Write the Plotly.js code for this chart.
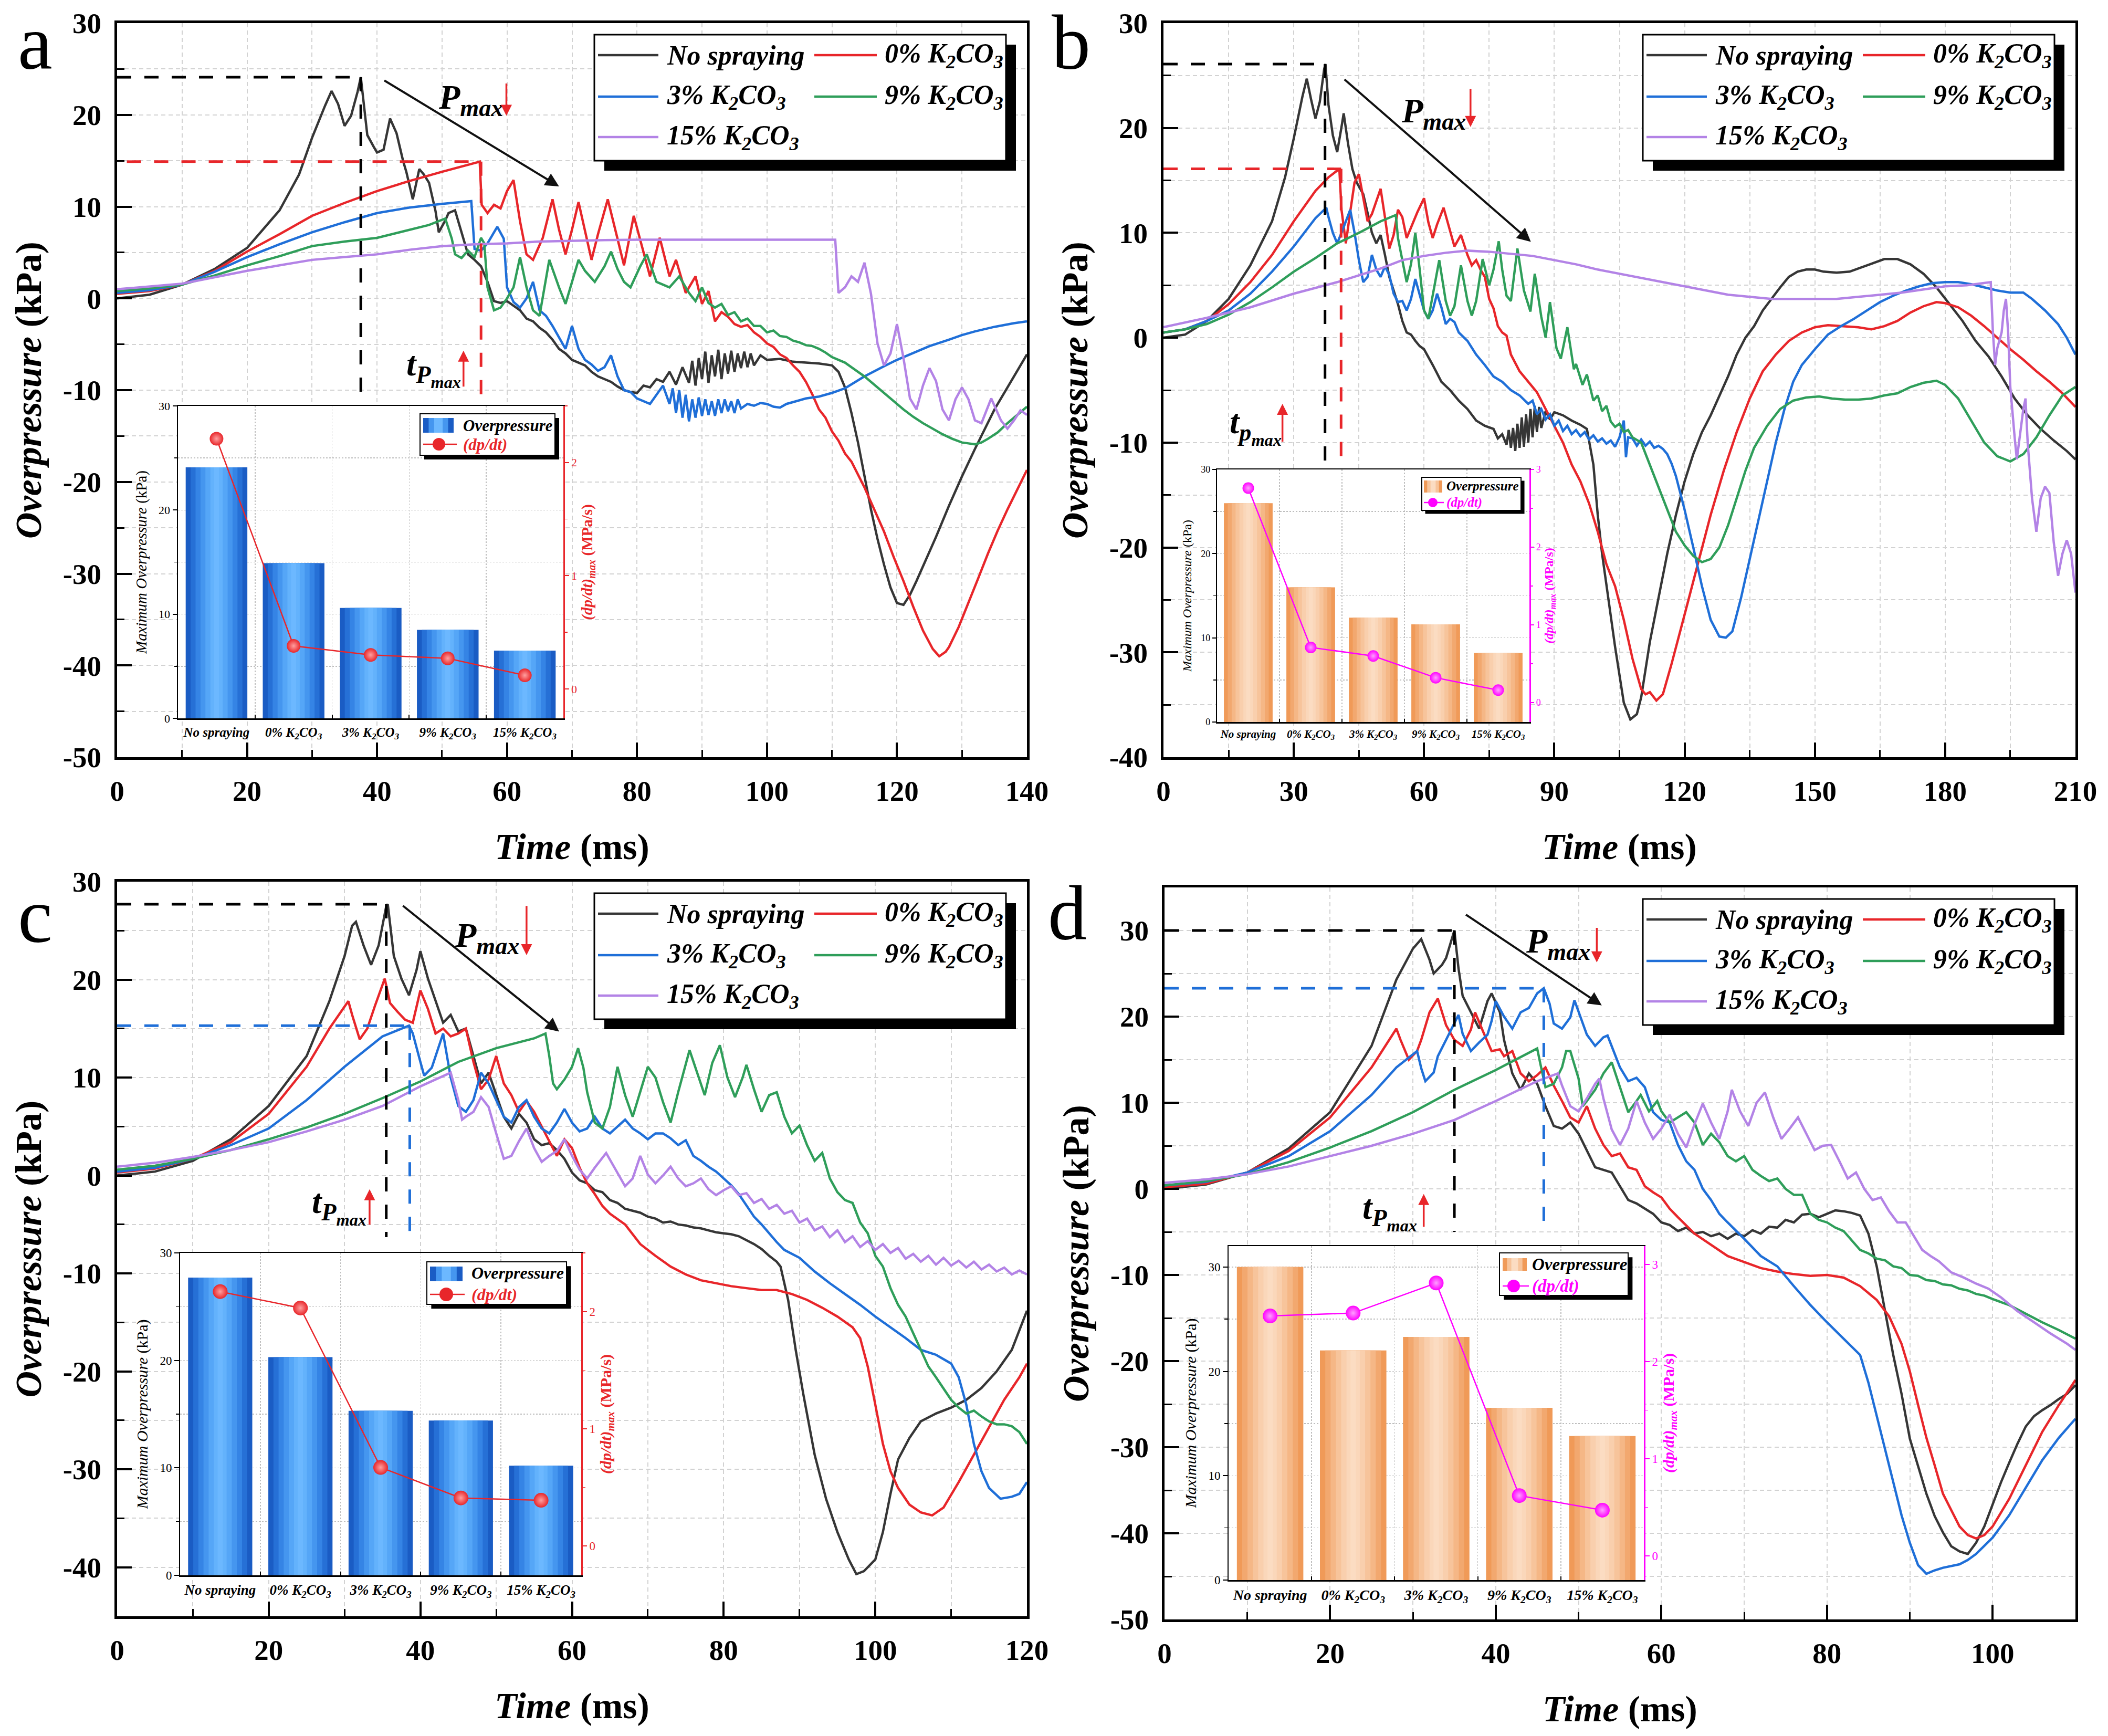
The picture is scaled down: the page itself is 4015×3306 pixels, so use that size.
<!DOCTYPE html>
<html><head><meta charset="utf-8">
<script src="https://cdn.plot.ly/plotly-3.0.1.min.js"></script>
<style>html,body{margin:0;padding:0;background:#fff}</style>
</head><body>
<div id="chart" style="width:4015px;height:3306px"></div>
<script>
// ---------------- DATA ----------------
const seriesNames = ['No spraying','0% K<sub>2</sub>CO<sub>3</sub>','3% K<sub>2</sub>CO<sub>3</sub>','9% K<sub>2</sub>CO<sub>3</sub>','15% K<sub>2</sub>CO<sub>3</sub>'];
const categories = ['No spraying','0% K<sub>2</sub>CO<sub>3</sub>','3% K<sub>2</sub>CO<sub>3</sub>','9% K<sub>2</sub>CO<sub>3</sub>','15% K<sub>2</sub>CO<sub>3</sub>'];

// Panel a  [time ms, overpressure kPa]
const a_ns = [[0,0],[5,0.4],[10,1.5],[15,3.2],[20,5.5],[25,9.6],[28,13.5],[30,17.5],[32,21],[33,22.6],[34,21.2],[35,18.8],[36,19.9],[37,22.5],[37.5,24.1],[38,21],[38.5,17.8],[39.5,16.5],[40,15.9],[41,16.2],[42,19.6],[43,18],[44,15],[44.5,13.8],[45.5,10.8],[46.5,14.1],[47.2,13.5],[48,12.6],[49,9.5],[49.5,7.2],[50.5,8.5],[51,9.3],[52,9.6],[53,7.2],[54,4.8],[55,4.2],[56,3.5],[57,1.8],[58,-0.3],[59,-0.5],[60,-0.3],[61,-0.8],[62,-1.3],[63,-2.2],[64,-2.5],[65,-3.2],[66,-3.7],[67,-4.5],[68,-5.5],[69,-6],[70,-6.7],[71,-7],[72,-7.3],[73,-8],[74,-8.5],[75,-8.8],[76,-9.1],[77,-9.6],[78,-10],[79,-10.2],[80,-10.3],[81,-9.5],[82,-9.7],[83,-8.8],[84,-9.1],[85,-8],[86,-9.4],[87,-7.5],[88,-9.2],[88.5,-6.8],[89,-9.5],[89.5,-6.5],[90,-8.8],[90.5,-5.8],[91,-9.2],[91.5,-6.2],[92,-8.5],[92.5,-5.6],[93,-8.8],[93.5,-6],[94,-8.2],[94.5,-5.7],[95,-8],[95.5,-6],[96,-7.6],[96.5,-5.8],[97,-7.5],[97.5,-6],[98,-7.3],[99,-6.2],[100,-6.7],[102,-6.6],[104,-6.9],[106,-7],[108,-7.1],[110,-7.3],[111,-8],[112,-9.7],[113,-12.5],[114,-15.7],[115,-19.5],[116,-23],[117,-26.2],[118,-29],[119,-31.5],[120,-33.2],[121,-33.4],[122,-32.3],[123,-30.8],[124,-29.2],[126,-26],[128,-22.6],[130,-19.4],[132,-16.4],[135,-12.1],[138,-8.5],[140,-6.1]];
const a_r = [[0,0.5],[5,0.8],[10,1.5],[15,3],[20,5.1],[25,7],[30,9],[35,10.4],[40,11.7],[45,12.8],[50,13.8],[53,14.4],[55.8,14.9],[56.1,10.2],[57,9.3],[58,10.2],[59,9.8],[60,11.7],[61,12.9],[62,8.4],[63,4.8],[64,4.2],[65.5,6.6],[67,10.8],[68,7.5],[69,4.8],[70,7.5],[71,10.5],[72,7.3],[73,4.2],[74,7],[75.5,10.8],[77,6.5],[78,3.6],[79.5,9],[81,5],[82,2.4],[83.5,6.6],[85,2.4],[86,4.2],[87.5,0.6],[89,2.4],[90,-0.6],[91,0.8],[92,-2.5],[93,-1.5],[94,-2],[95,-2.8],[96,-3.1],[97,-2.9],[98,-3.7],[99,-4.2],[100,-4.9],[101,-5.3],[102,-6.1],[103,-6.5],[104,-7.3],[105,-8],[106,-9.1],[107,-10.5],[108,-12.1],[109,-13],[110,-14.5],[111,-15.5],[112,-16.9],[113,-17.8],[115,-20.6],[116.5,-23],[118,-25.4],[119.5,-28.2],[121,-30.8],[122.5,-33.6],[124,-36.2],[125.5,-38.2],[126.5,-39],[127.5,-38.5],[128,-38],[129.5,-35.8],[131,-33.2],[132.5,-30.5],[134,-27.8],[135.5,-25.3],[137,-23],[138.5,-20.8],[140,-18.7]];
const a_b = [[0,0.6],[5,0.9],[10,1.5],[15,2.9],[20,4.5],[25,5.9],[30,7.2],[35,8.3],[40,9.3],[45,9.9],[50,10.3],[54.5,10.6],[55,5.4],[56,5.2],[57,6],[58.5,7.8],[59.5,6.5],[60,1.2],[61,-0.4],[62,-1],[63,0],[64,1.8],[65,-1.3],[66,-1.9],[67,-3],[68,-4.3],[69,-5.5],[70,-3],[71,-5.5],[72,-6.7],[73,-7.2],[74,-7.9],[75,-7.5],[76,-6.2],[77,-8.5],[78,-10],[79,-10.2],[80,-10.9],[81,-11.2],[82,-11.5],[83,-10.5],[84,-9.5],[85,-11.5],[85.5,-9.8],[86,-12.5],[86.5,-10],[87,-13],[87.5,-10.5],[88,-13.4],[88.5,-11],[89,-13],[89.5,-10.8],[90,-12.8],[90.5,-11],[91,-12.7],[91.5,-11.2],[92,-12.8],[92.5,-11],[93,-12.5],[93.5,-11],[94,-12.3],[94.5,-11.2],[95,-12.5],[95.5,-11],[96,-12],[97,-11.5],[98,-11.7],[99,-11.4],[100,-11.5],[101,-11.8],[102,-11.9],[103,-11.5],[104,-11.3],[106,-10.9],[108,-10.7],[110,-10.3],[112,-9.8],[115,-8.5],[118,-7.4],[120,-6.7],[122,-6.1],[125,-5.2],[128,-4.5],[130,-4],[132,-3.6],[135,-3.1],[138,-2.7],[140,-2.5]];
const a_g = [[0,0.8],[5,1.1],[10,1.5],[15,2.5],[20,3.6],[25,4.6],[30,5.7],[35,6.2],[40,6.6],[45,7.5],[48,8],[50.5,8.7],[51.5,6.5],[52,4.8],[53,4.4],[54,5.2],[55,4.5],[56,6.6],[56.5,6],[57,1.2],[58,-1.3],[59,-1],[60,0],[61,1.2],[62,4.5],[63,1.2],[64,-1.3],[65,-1.9],[66.5,4.2],[68,1.2],[69,-0.6],[70,1.8],[71,4.2],[72,3],[73.5,1.8],[75,3.5],[76,5.1],[77,3.2],[78,1.8],[79,1.2],[80.5,3.5],[81.5,4.8],[83,1.8],[85,1.2],[86.5,2.4],[88,0.6],[89,-0.3],[90,1.2],[91,-0.5],[92,-1],[93,-0.6],[94,-1.8],[95,-1.5],[96,-2.5],[97,-2.2],[98,-3],[99,-3],[100,-3.7],[101,-3.5],[102,-4.1],[103,-4.2],[104,-4.6],[105,-4.8],[106,-5.1],[107,-5.2],[108,-5.5],[109,-5.9],[110,-6.4],[111,-6.7],[112,-7],[113,-7.5],[115,-8.5],[116.5,-9.4],[118,-10.3],[119.5,-11.2],[121,-12.1],[122.5,-12.9],[124,-13.6],[125.5,-14.2],[127,-14.8],[128.5,-15.3],[130,-15.7],[131,-15.8],[132,-15.9],[133,-15.7],[134,-15.3],[135.5,-14.6],[137,-13.6],[138.5,-12.7],[140,-11.8]];
const a_p = [[0,1],[5,1.3],[10,1.6],[15,2.3],[20,3],[25,3.6],[30,4.2],[35,4.5],[40,4.8],[45,5.3],[50,5.7],[55,5.9],[60,6],[65,6.2],[70,6.3],[75,6.35],[80,6.4],[90,6.4],[100,6.4],[110.5,6.4],[111,0.6],[112,1.2],[113,2.4],[114,1.8],[115,3.9],[116,0.5],[117,-4.9],[118,-7.3],[119,-6],[120,-2.8],[121,-6.5],[122,-10.9],[123,-12.1],[124,-9.5],[125,-7.6],[126,-9],[127,-12.1],[128,-13.3],[129,-11],[130,-9.7],[131,-11],[132,-13.3],[133,-13.6],[134.5,-10.9],[136,-13.3],[137,-14.2],[138,-13.3],[139,-12.2],[140,-12.7]];

// Panel b
const b_ns = [[0,0],[5,0.3],[10,1.6],[15,3.7],[20,6.9],[25,11.1],[28,15.3],[30,19],[32,23],[33,24.7],[34,22.7],[35,20.9],[36,22.5],[37,25.6],[37.3,26.1],[38,22.2],[39,19.3],[40,17.7],[41,20.1],[41.5,21.4],[42.5,18.5],[43.5,16.1],[44.5,14.8],[46,13.7],[47,11.9],[48,10],[49,9],[50,9.8],[51,7.9],[52,5.8],[53,4.5],[54,3.2],[55,1.6],[56,0.5],[57,0.3],[58,-0.3],[59,-0.8],[60,-1.1],[62,-2.6],[64,-4.2],[66,-5],[68,-6],[70,-6.8],[72,-7.9],[74,-8.4],[76,-8.7],[77,-9.6],[78,-9.2],[79,-10.2],[79.5,-8.8],[80,-10.5],[80.5,-8.6],[81,-10.8],[81.5,-8.2],[82,-10.5],[82.5,-7.6],[83,-10.4],[83.5,-7.3],[84,-10],[84.5,-6.8],[85,-9.5],[85.5,-6.5],[86,-9],[86.5,-6.6],[87,-8.6],[88,-7],[89,-7.8],[90,-7.1],[92,-7.4],[94,-7.9],[96,-8.3],[97.5,-8.7],[99,-12.1],[100,-16.9],[101,-20.6],[102,-23.7],[104,-29.5],[106,-34.8],[107.5,-36.4],[109,-35.9],[110,-34.3],[112,-29],[114,-24.8],[116,-20.6],[118,-16.9],[120,-13.7],[122,-11.1],[124,-9],[126,-7.4],[128,-5.5],[130,-3.7],[132,-1.6],[134,0],[136,1.1],[138,2.6],[140,3.7],[142,4.8],[144,5.8],[146,6.3],[148,6.5],[150,6.5],[152,6.3],[155,6.2],[158,6.3],[160,6.6],[163,7.1],[166,7.5],[169,7.5],[172,7],[175,6.1],[178,4.8],[181,3.2],[184,1.6],[187,-0.3],[190,-1.8],[193,-3.7],[196,-5.8],[199,-7.4],[202,-8.7],[205,-9.8],[208,-10.8],[210,-11.6]];
const b_r = [[0,0.5],[5,0.8],[10,1.6],[15,3.2],[20,5.3],[25,7.9],[30,11.1],[35,14],[38,15.3],[40.5,16.1],[41,12.2],[42,9],[43,12],[44,14.8],[45,15.6],[46,13.2],[47,11.1],[48,11.8],[49,13],[50,14.2],[51,11.5],[52,8.5],[53,9.8],[54,12.2],[55,11.5],[56,9.5],[57,10.5],[58.5,12],[60,13.3],[61,11],[62,9.5],[63,10.8],[64.5,12.4],[66,10.3],[67,8.7],[68.5,9.8],[70,7.9],[71,6.9],[72,7.4],[73,6.5],[74,5.8],[75,3.7],[76,2.8],[77,1.1],[78,0.5],[79,0.2],[80,-1.6],[82,-3.2],[84,-4.2],[86,-5.2],[88,-6.8],[90,-8.4],[92,-10],[94,-12.1],[96,-13.7],[98,-15.8],[100,-18.5],[102,-21.6],[104,-23.7],[106,-26.9],[108,-30.6],[110,-33.5],[111,-34],[112,-33.8],[113.5,-34.6],[115,-34],[117,-31.1],[120,-26.4],[123,-21.6],[126,-16.9],[129,-12.7],[132,-9],[135,-5.8],[138,-3.2],[141,-1.6],[144,-0.3],[147,0.5],[150,1],[153,1.2],[156,1.1],[160,1],[163,0.8],[166,1.1],[169,1.6],[172,2.4],[175,3],[178,3.4],[180,3.3],[183,2.9],[186,2.1],[189,1.1],[192,0],[195,-1.1],[198,-2.1],[201,-3.2],[204,-4.2],[207,-5.3],[210,-6.6]];
const b_b = [[0,0.5],[5,0.8],[10,1.6],[15,2.6],[20,4.2],[25,6.3],[30,8.7],[35,11.4],[37.5,12.4],[38,11.5],[39,10],[40,9],[41,10],[42,11.1],[43,12.2],[44,10],[45,7.4],[46,5.3],[47,5.8],[48,7.9],[49,6.5],[50,5.8],[51,6.8],[52,6],[53,4.2],[54,3.4],[55,3.5],[56,2.6],[57,3.7],[58,5.6],[59,4.2],[60,2.6],[61,1.8],[62,2.6],[63,4.2],[64,2.9],[65,1.3],[66,1.8],[67,1.5],[68,0.5],[70,-0.3],[72,-1.6],[74,-2.6],[76,-3.7],[78,-4.2],[80,-5],[82,-5.5],[84,-6.3],[85,-6],[86,-7.3],[87,-6.8],[88,-7.8],[89,-7.3],[90,-8.4],[91,-7.9],[92,-8.9],[93,-8.4],[94,-9.2],[95,-8.8],[96,-9.4],[97,-9],[98,-9.7],[99,-9.3],[100,-9.9],[101,-9.6],[102,-10.1],[103,-9.8],[104,-10.4],[105,-9.5],[106,-7.9],[106.5,-11.4],[107,-9.5],[108,-9.6],[109,-10.3],[110,-9.7],[111,-10.3],[112,-9.9],[113,-10.5],[114,-10.3],[115,-10.6],[116,-11.1],[117,-12],[118,-13.2],[120,-16.4],[122,-20],[124,-23.7],[126,-26.9],[128,-28.5],[129.5,-28.6],[131,-28],[133,-24.8],[135,-21.1],[137,-17.4],[139,-13.7],[141,-10],[143,-6.8],[145,-4.2],[147,-2.6],[150,-1.1],[153,0.3],[156,1.1],[159,1.8],[162,2.6],[165,3.4],[168,4],[171,4.5],[174,4.9],[177,5.2],[180,5.3],[183,5.3],[186,5.1],[189,4.8],[192,4.5],[195,4.3],[198,4.3],[200,3.7],[203,2.6],[206,1.3],[208,0],[210,-1.6]];
const b_g = [[0,0.5],[5,0.8],[10,1.3],[15,2.2],[20,3.4],[25,4.8],[30,6.3],[35,7.6],[40,9],[45,10],[50,11.1],[53.5,11.7],[54,9.5],[55,7.4],[56,5.3],[57,7],[58,10],[59,6.5],[60,2.6],[61,1.8],[62,4],[63.5,7.4],[65,3.5],[66,2.1],[67,3],[68.5,6.9],[70,3.5],[71,2.1],[72,3.5],[73.5,7.5],[75,5],[76,6.5],[77.2,9.2],[78,6.5],[79,4],[80,3.5],[81.5,8.5],[83,4.5],[84.5,2.5],[85.5,6.1],[87,2],[88,0],[89,3.4],[90.5,-1],[91.5,-2],[93,1],[94.5,-3],[95,-2.5],[96.5,-4.5],[97.5,-3.5],[99,-6],[100,-5.5],[101,-7],[102,-6.5],[103,-8],[104,-8.5],[105,-8.2],[106,-9],[107,-8.8],[108,-9.5],[110,-10],[112,-12.1],[114,-14.2],[116,-16.4],[118,-18.5],[120,-19.8],[122,-20.8],[124,-21.4],[126,-21.1],[128,-20],[130,-17.9],[132,-15.3],[134,-12.7],[136,-10.5],[139,-8.4],[142,-6.8],[145,-6],[148,-5.7],[151,-5.6],[154,-5.8],[157,-5.9],[160,-5.9],[163,-5.8],[166,-5.5],[169,-5.3],[172,-4.7],[175,-4.3],[178,-4.1],[180,-4.5],[183,-5.8],[186,-7.9],[189,-10],[192,-11.3],[195,-11.8],[198,-11.1],[201,-9.5],[204,-7.4],[207,-5.5],[210,-4.7]];
const b_p = [[0,1],[10,1.9],[20,2.9],[30,4.2],[40,5.3],[50,6.6],[55,7.4],[60,7.8],[65,8.1],[70,8.3],[75,8.2],[80,8],[85,7.8],[90,7.4],[95,7],[100,6.5],[105,6.1],[110,5.7],[115,5.3],[120,4.9],[125,4.5],[130,4.1],[135,3.9],[140,3.7],[145,3.7],[150,3.7],[155,3.7],[160,3.9],[165,4.1],[170,4.3],[175,4.6],[180,4.9],[185,5],[189,5.2],[190.5,5.3],[191,0.5],[191.5,-2.6],[192,-1],[193,0.5],[193.5,2.6],[194,3.7],[194.5,0.5],[195,-4.7],[196,-9.5],[196.5,-11.6],[197,-10],[198,-6.8],[198.5,-5.8],[199,-10],[200,-15.3],[201,-18.5],[202,-15.3],[203,-14.2],[204,-14.8],[205,-19.5],[206,-22.7],[207,-20.6],[208,-19.3],[209,-20.6],[210,-24.3]];

// Panel c
const c_ns = [[0,0],[5,0.4],[10,1.5],[15,3.7],[20,7.1],[25,12.2],[28,17.8],[30,22.4],[31,25.5],[31.5,25.9],[32.5,23.5],[33.5,21.5],[34.5,23.5],[35.5,27.5],[35.7,27.7],[36.5,22.4],[37.5,20.1],[38.5,18.4],[39.5,21],[40,22.9],[41,20.1],[42,17.8],[43,15.6],[44,16.4],[45,14.7],[46,15],[47,12.2],[48,9.4],[49,10.5],[50,8.2],[51,6],[52,4.8],[53,6.3],[54,5.4],[55,3.7],[56,3.1],[57,3.3],[58,2.6],[59,1.7],[60,0.3],[61,-0.5],[62,-0.8],[63,-1.5],[64,-1.7],[65,-2.5],[66,-2.8],[67,-3.4],[68,-3.6],[69,-3.8],[70,-4.2],[71,-4.4],[72,-4.8],[73,-4.7],[74,-5],[75,-5.1],[76,-5.3],[77,-5.4],[78,-5.6],[79,-5.8],[80,-5.9],[81,-6],[82,-6.2],[83,-6.6],[84,-7],[85,-7.5],[86,-8.2],[87,-8.8],[87.5,-9.3],[88.5,-12.7],[89.5,-17.8],[90.5,-22.3],[92,-28.5],[93.5,-33],[95,-36.4],[96.5,-39.2],[97.5,-40.7],[98.5,-40.4],[100,-39.2],[101,-36.4],[102,-32.5],[103,-29],[104.5,-26.8],[106,-25.1],[108,-24.3],[110,-23.7],[112,-22.9],[114,-21.7],[116,-20],[118,-17.8],[120,-13.8]];
const c_r = [[0,0.3],[5,0.7],[10,1.7],[15,3.4],[20,6.3],[25,11.1],[28,15],[30.5,17.8],[31,16.4],[32,13.9],[33,15],[34,17.3],[35.3,20.1],[36,17.6],[37,16.7],[38,15.9],[39,15.6],[40,18.9],[41,17],[42,14.5],[43,15],[44,14.2],[45,14.5],[46,15],[47,11.6],[48,8.8],[49,9.8],[50,12.2],[51,9.4],[52,8.2],[53,6.5],[54,7.6],[55,6.5],[56,5],[57,3.4],[58,2],[59,3.7],[60,2.8],[61,0.8],[62,-0.8],[63,-1.9],[64,-3.1],[65,-3.9],[67,-5],[69,-7],[71,-8.2],[73,-9.3],[75,-10.1],[77,-10.7],[79,-11],[81,-11.3],[83,-11.5],[85,-11.7],[87,-11.7],[89,-12.1],[91,-12.7],[93,-13.5],[95,-14.4],[97,-15.5],[98,-16.6],[99,-19.5],[100,-23.4],[101,-27.4],[102,-30.2],[103,-31.9],[104.5,-33.6],[106,-34.4],[107.5,-34.7],[109,-33.9],[111,-31.3],[113,-28.5],[115,-25.7],[117,-22.9],[119,-20.6],[120,-19.2]];
const c_b = [[0,0.4],[5,0.8],[10,1.7],[15,3.1],[20,4.8],[25,7.7],[30,11.1],[35,14.2],[38.5,15.3],[39,14.5],[40,11.6],[40.5,10.2],[41.5,11],[42,12.2],[43,14.5],[44,10],[45,7.1],[46,6.5],[47,7.7],[48,10.5],[49,9.4],[50,7.7],[51,6],[52,5.4],[53,7],[54,7.7],[55,6],[56,4.8],[57,4.3],[58,5.4],[59,6.8],[60,5.4],[61,4.5],[62,4.8],[63,6],[64,4.8],[65,4.3],[66,5],[67,5.7],[68,4.8],[69,4.3],[70,3.7],[71,4.3],[72,4.3],[73,3.8],[74,3.1],[75,3.6],[76,2],[77,1.5],[78,0.9],[79,0.4],[80,-0.3],[81,-1],[82,-1.9],[83,-3],[84,-4.2],[85,-5],[86,-5.9],[87,-6.8],[88,-7.6],[89,-8],[90,-8.4],[92,-9.8],[94,-11],[96,-12.1],[98,-13.2],[100,-14.4],[102,-15.5],[104,-16.6],[106,-17.8],[108,-18.3],[110,-19.2],[111,-20.6],[112,-23.4],[113,-27.4],[114,-30.2],[115,-31.9],[116.5,-33],[118,-32.8],[119,-32.5],[120,-31.3]];
const c_g = [[0,0.6],[5,1],[10,1.7],[15,2.6],[20,3.7],[25,4.9],[30,6.3],[35,7.9],[40,9.6],[45,11.6],[50,13],[55,14],[56.5,14.5],[57,12.2],[57.5,9.4],[58,8.8],[59,9.8],[60,11.1],[60.8,13],[61.5,11],[62,8.5],[63,5.4],[64,4.8],[65,7],[66,11.1],[67,8.2],[68,6],[69,8.5],[70,11.1],[71,10],[72,7.5],[73,5.4],[74,8.5],[75.5,12.8],[76.5,10.5],[77.5,8.2],[78.5,11.5],[79.5,13.3],[80.5,10],[81.5,8],[82.5,10],[83,11.3],[84,8.8],[85,6.5],[86,8.2],[87,8.5],[88,6],[89,4.3],[90,5.1],[91,3.1],[92,1.5],[93,2.3],[94,-0.3],[95,-1.7],[96,-2.5],[97,-2.8],[98,-4.8],[99,-5.9],[100,-8.2],[101,-9.3],[102,-11.5],[103,-13.2],[104,-14.4],[105,-16.1],[106,-17.8],[107,-19.5],[108,-20.6],[109,-21.7],[110,-22.9],[111,-23.7],[112,-24.3],[113,-24],[114,-24.6],[115,-25.1],[116,-25.4],[117,-25.4],[118,-25.6],[119,-26.2],[120,-27.4]];
const c_p = [[0,0.9],[5,1.3],[10,1.9],[15,2.6],[20,3.4],[25,4.5],[30,5.7],[35,7.1],[40,9.1],[44,10.5],[45,7.7],[45.5,5.7],[46,6],[47,6.5],[48,8],[49,7],[50,4.3],[51,1.7],[52,2],[53,3.5],[54,4.8],[55,2.8],[56,1.4],[57,2],[58,2.5],[59,3.7],[60,2],[61,0.6],[62,-0.3],[63,0.8],[64.5,2.3],[66,0.3],[67,-1.1],[68,-0.3],[69,2],[70,0.1],[71,-0.8],[72,0],[73,0.9],[74,-0.3],[75,-1.1],[76,-0.8],[77,-0.3],[78,-1.4],[79,-2],[80,-1.5],[81,-1.1],[82,-2],[83,-1.8],[84,-2.8],[85,-2.4],[86,-3.4],[87,-3],[88,-3.9],[89,-3.6],[90,-4.8],[91,-4.4],[92,-5.6],[93,-5.2],[94,-6.3],[95,-5.6],[96,-6.8],[97,-6.2],[98,-7.3],[99,-6.7],[100,-7.6],[101,-7],[102,-7.9],[103,-7.4],[104,-8.5],[105,-8],[106,-8.8],[107,-8.2],[108,-9.1],[109,-8.4],[110,-9.2],[111,-8.7],[112,-9.4],[113,-8.8],[114,-9.6],[115,-9.1],[116,-9.8],[117,-9.4],[118,-10.1],[119,-9.7],[120,-10.1]];

// Panel d
const d_ns = [[0,0],[5,0.5],[10,1.9],[15,4.7],[20,8.9],[25,16.6],[28,24.3],[30,27.9],[31,29],[32,26.6],[32.5,25],[33.5,26],[34,26.8],[35,30],[35.5,25.6],[36,22.4],[37,20.5],[38,18.6],[39,21.8],[39.5,22.7],[40.5,20.5],[41,17.3],[42,13.4],[43,11.5],[44,13.4],[45,12.2],[46,9.6],[47,7.3],[48,7],[49,7.7],[50,6.4],[51,4.5],[52,2.5],[53,2.2],[54,1.9],[55,0.3],[56,-1.3],[57,-1.7],[58,-2.3],[59,-2.9],[60,-3.9],[61,-4.2],[62,-4.9],[63,-4.5],[64,-5.2],[65,-5],[66,-5.5],[67,-5.2],[68,-5.8],[69,-5.2],[70,-5.5],[71,-4.8],[72,-5.2],[73,-4.4],[74,-4.5],[75,-3.6],[76,-3.9],[77,-3],[78,-2.9],[79,-3.3],[80,-2.9],[81,-2.5],[82,-2.6],[83,-2.8],[84,-3.1],[85,-5.2],[86,-9],[87,-14.2],[88,-19.3],[89,-23.8],[90,-29],[91,-32.2],[92,-35.4],[93,-38],[94,-39.9],[95,-41.5],[96,-42.1],[97,-42.4],[98,-41.1],[99,-39.2],[100,-36.6],[101,-34.1],[102,-31.8],[103,-29.6],[104,-27.6],[105,-26.4],[106,-25.7],[107,-25.1],[108,-24.4],[109,-23.8],[110,-22.8]];
const d_r = [[0,0.2],[5,0.6],[10,1.9],[15,4.4],[20,8.3],[25,14.1],[28,18.6],[28.5,17.3],[29.5,15],[30.5,16],[31,17.3],[32,20.5],[33,22.1],[34,19],[35,17.3],[36,16.6],[37,18.5],[37.5,20.5],[38.5,18.2],[39.5,16],[40.5,16.2],[41,15.4],[42,16],[43,13.4],[44,12.5],[45,13.2],[46,14.1],[47,12],[48,10.2],[49,8.3],[50,7.7],[51,9.6],[52,7],[53,5.1],[54,3.8],[55,4.1],[56,2.5],[57,2.2],[58,0.3],[59,-0.4],[60,-1],[61,-2.3],[62,-3.3],[64,-5.2],[66,-6.5],[68,-7.8],[70,-8.5],[72,-9.2],[74,-9.6],[76,-9.9],[78,-10.1],[80,-10],[82,-10.3],[84,-11.3],[86,-12.9],[87.5,-14.8],[89,-18],[90,-21.2],[91,-25.1],[92,-28.9],[93,-32.1],[94,-35.4],[95,-37.3],[96,-39.2],[97,-40.2],[98,-40.6],[99,-40.2],[100,-39.2],[102,-36],[104,-32.1],[106,-28.2],[108,-25.1],[110,-22.2]];
const d_b = [[0,0.4],[5,0.8],[10,1.9],[15,3.8],[20,6.7],[25,10.9],[28,14.1],[30.5,16],[31,14],[31.5,12.5],[32.5,13.5],[33,15.4],[34,17.3],[35,19.2],[35.5,20.2],[36,18],[37,16],[38,17],[39,17.9],[39.5,19.5],[40,21.8],[41,20],[42,18.6],[43,20.5],[44,21],[45,22.7],[45.8,23.3],[46.5,21.5],[47,19.2],[48,18.6],[49,19.9],[49.5,21.9],[50,20.5],[51,17.9],[52,16.6],[53,17.6],[53.5,17.8],[54,16.6],[55,14.1],[56,12.5],[57,12.9],[58,11.8],[59,8.9],[60,8],[61,7.7],[62,5.1],[63,3.2],[64,2.2],[65,0],[66,-1.3],[67,-2.9],[68,-3.9],[70,-5.8],[72,-7.8],[74,-9],[76,-11.3],[78,-13.5],[80,-15.5],[82,-17.4],[84,-19.3],[85,-22.5],[86,-26.4],[87,-30.2],[88,-34.1],[89,-37.9],[90,-41.1],[91,-43.7],[92,-44.7],[93,-44.3],[94,-44],[95,-43.8],[96,-43.6],[97,-43.1],[98,-42.4],[100,-40.5],[102,-37.9],[104,-34.7],[106,-31.5],[108,-28.9],[110,-26.7]];
const d_g = [[0,0.4],[5,0.9],[10,1.7],[15,3.1],[20,4.8],[25,6.7],[30,8.9],[35,11.5],[40,13.8],[45,16.3],[45.5,14],[46,11.8],[47,12.2],[48,14.1],[48.5,16],[49,16],[50,12.8],[50.5,9.6],[51,10.2],[52,11.5],[53,13.4],[54,14.7],[55,11.8],[56,8.9],[57,10.2],[57.5,10.9],[58.5,9],[59.5,10.2],[60,9],[61,7.7],[62,8.3],[63,8.9],[64,7.7],[65,5.1],[66,6.4],[67,5.4],[68,3.8],[69,3.2],[70,3.8],[71,2.2],[72,1.5],[73,0.9],[74,1.2],[75,0],[76,-0.7],[77,-0.7],[78,-2.9],[79,-3.6],[80,-3.9],[81,-4.5],[82,-4.9],[83,-6],[84,-7.1],[85,-7.5],[86,-8.1],[87,-8.3],[88,-9],[89,-9.2],[90,-10],[91,-10.1],[92,-10.6],[93,-10.7],[94,-11.1],[95,-11.2],[96,-11.6],[97,-11.8],[98,-12.2],[99,-12.4],[100,-12.8],[102,-13.5],[104,-14.5],[106,-15.5],[108,-16.4],[110,-17.4]];
const d_p = [[0,0.7],[5,1.1],[10,1.7],[15,2.6],[20,3.8],[25,5],[30,6.4],[35,8],[40,10.2],[45,12.5],[47.5,13.4],[48,12],[49,9.6],[50,9],[51,10.5],[52,12.2],[52.5,12.8],[53,10.5],[54,6.9],[55,5.1],[56,7],[57,10.2],[58,7.7],[59,5.8],[60,7],[61,8.6],[62,6.4],[63,4.8],[64,7.5],[65,9.9],[66,7.7],[67,5.8],[68,9],[68.5,11.5],[69.5,9],[70.5,7.3],[71.5,10],[72.5,11.2],[73.5,8.3],[74.5,5.8],[75.5,7],[76.5,8.3],[77.5,6.4],[78.5,4.5],[79.5,5],[80.5,5.1],[81.5,3.2],[82.5,1.2],[83.5,1.9],[84.5,0],[85.5,-1.3],[86.5,-1],[87.5,-2.6],[88.5,-3.9],[89.5,-3.9],[90.5,-5.5],[91.5,-7.1],[92.5,-7.8],[93.5,-8.4],[95,-9.7],[96.5,-10.3],[98,-11],[99.5,-11.6],[101,-12.6],[103,-14.2],[105,-15.5],[107,-16.8],[109,-18],[110,-18.7]];

// Peak markers (time of max, max overpressure) for the dashed guides
const a_peak_t = [37.5, 56.0], a_peak_p = [24.1, 14.9];
const b_peak_t = [37.2, 40.9], b_peak_p = [26.1, 16.1];
const c_peak_t = [35.5, 38.6], c_peak_p = [27.7, 15.3];
const d_peak_t = [35.0, 45.8], d_peak_p = [30.0, 23.3];

// Inset data: maximum overpressure (kPa) and (dp/dt)max (MPa/s)
const a_over = [24.1, 14.9, 10.6, 8.5, 6.5],  a_dpdt = [2.21, 0.38, 0.30, 0.27, 0.12];
const b_over = [26.0, 16.0, 12.4, 11.6, 8.2], b_dpdt = [2.76, 0.71, 0.60, 0.32, 0.16];
const c_over = [27.7, 20.3, 15.3, 14.4, 10.2], c_dpdt = [2.17, 2.03, 0.67, 0.41, 0.39];
const d_over = [30.0, 22.0, 23.3, 16.5, 13.8], d_dpdt = [2.47, 2.50, 2.81, 0.62, 0.47];

// ---------------- STYLE / LAYOUT ----------------
const W = 4015, H = 3306;
const fx = v => v / W, fy = v => 1 - v / H;
const SERIF = 'Liberation Serif, Times New Roman, serif';
const COLORS = ['#363636', '#e8262a', '#1f6fd8', '#2f9e5a', '#b383e6'];
const GRID = '#d2d2d2', GDASH = '8px,6px';
const RED = '#e8262a', MAG = '#ff00ff', BLUE = '#1f6fd8';
const BLUE_LAYERS = [[1.0,'#1a5cc4'],[0.84,'#2670d6'],[0.68,'#3584e5'],[0.52,'#4596ef'],[0.36,'#55a6f7'],[0.2,'#63b2fc'],[0.08,'#6cb8ff']];
const ORANGE_LAYERS = [[1.0,'#f09a58'],[0.84,'#f2a86f'],[0.68,'#f5b786'],[0.52,'#f7c49b'],[0.36,'#f9cfad'],[0.2,'#fad7ba'],[0.08,'#fbdcc2']];

const panels = [
  {letter:'a', lpos:[67,132], box:[223,44,1956,1442], xr:[0,140], xdt:20, xmn:10, yr:[-50,30], ylo:-50,
   data:[a_ns,a_r,a_b,a_g,a_p], pk:[a_peak_t,a_peak_p], gcol:['#000',RED], gx0:[0,1.5], gbot:-10.6,
   big:[41,23.8,68,12.2], pm:[54.4,21.7], pmA:[59.9,23.5,19.9], tp:[48.7,-7.6], tpA:[53.3,-9.7,-5.7], tsub:'P',
   ins:{box:[339,773,1073,1368], y1:[0,30], y2:[-0.26,2.5], y2t:[0,1,2], over:a_over, dp:a_dpdt, bg:'#f5f1c0', layers:BLUE_LAYERS, lc:RED, bw:0.8,
        tf:22, cf:25, ttf:29, lf:31, ms:26,
        leg:{box:[800,788,1057,867], sw:[6,64,8,36], tx:80, r1:22, r2:58, ln:[6,70], mx:36, mr:12}}},
  {letter:'b', lpos:[2040,132], box:[2216,44,3953,1442], xr:[0,210], xdt:30, xmn:15, yr:[-40,30], ylo:-40,
   data:[b_ns,b_r,b_b,b_g,b_p], pk:[b_peak_t,b_peak_p], gcol:['#000',RED], gx0:[0,0], gbot:-11.9,
   big:[41.5,24.7,84.6,9.15], pm:[62.2,21.4], pmA:[70.7,23.8,20.1], tp:[21.2,-8.4], tpA:[27.4,-10,-6.3], tsub:'p',
   ins:{box:[2318,894,2913,1375], y1:[0,30], y2:[-0.25,3], y2t:[0,1,2,3], over:b_over, dp:b_dpdt, bg:'#dcedfa', layers:ORANGE_LAYERS, lc:MAG, bw:0.78,
        tf:18, cf:21, ttf:24, lf:25, ms:22,
        leg:{box:[2708,909,2897,972], sw:[4,39,6,29], tx:45, r1:17, r2:48, ln:[4,42], mx:21, mr:9}}},
  {letter:'c', lpos:[67,1795], box:[223,1679,1956,3078], xr:[0,120], xdt:20, xmn:10, yr:[-45,30], ylo:-40,
   data:[c_ns,c_r,c_b,c_g,c_p], pk:[c_peak_t,c_peak_p], gcol:['#000',BLUE], gx0:[0,0], gbot:-6.3,
   big:[37.6,27.6,58.3,14.7], pm:[48.8,24.3], pmA:[54,27.6,22.5], tp:[29.3,-3.1], tpA:[33.3,-5.1,-1.4], tsub:'P',
   ins:{box:[343,2386,1107,3000], y1:[0,30], y2:[-0.25,2.5], y2t:[0,1,2], over:c_over, dp:c_dpdt, bg:'#f5f1c0', layers:BLUE_LAYERS, lc:RED, bw:0.8,
        tf:23, cf:27, ttf:30, lf:32, ms:28,
        leg:{box:[813,2403,1079,2484], sw:[6,68,9,37], tx:83, r1:21, r2:62, ln:[6,72], mx:37, mr:13}}},
  {letter:'d', lpos:[2033,1790], box:[2218,1690,3953,3084], xr:[0,110], xdt:20, xmn:10, yr:[-50,35], ylo:-50,
   data:[d_ns,d_r,d_b,d_g,d_p], pk:[d_peak_t,d_peak_p], gcol:['#000',BLUE], gx0:[0,0], gbot:-5,
   big:[36.3,31.9,52.8,21.3], pm:[47.5,28.5], pmA:[52.2,30.4,26.3], tp:[27.2,-2.6], tpA:[31.3,-4.5,-0.6], tsub:'P',
   ins:{box:[2340,2373,3131,3009], y1:[0,32], y2:[-0.25,3.19], y2t:[0,1,2,3], over:d_over, dp:d_dpdt, bg:'#dcedfa', layers:ORANGE_LAYERS, lc:MAG, bw:0.8,
        tf:23, cf:28, ttf:30, lf:33, ms:28,
        leg:{box:[2856,2386,3101,2467], sw:[6,52,10,34], tx:60, r1:22, r2:63, ln:[6,56], mx:27, mr:12}}}
];

const traces = [], shapes = [], annotations = [];
const layout = {
  width: W, height: H, margin:{l:0,r:0,t:0,b:0}, paper_bgcolor:'#fff', plot_bgcolor:'#fff',
  showlegend:false, barmode:'overlay', hovermode:false, font:{family:SERIF, color:'#000'}
};

function rectPx(x0,y0,x1,y1,fill,lineColor,lw){
  return {type:'rect', xref:'paper', yref:'paper', x0:fx(x0), x1:fx(x1), y0:fy(y1), y1:fy(y0),
          fillcolor:fill, line:{color:lineColor, width:lw}, layer:'above'};
}
function linePx(x0,y0,x1,y1,color,lw){
  return {type:'line', xref:'paper', yref:'paper', x0:fx(x0), x1:fx(x1), y0:fy(y0), y1:fy(y1),
          line:{color:color, width:lw}, layer:'above'};
}
function textPx(x,y,txt,size,opts){
  return Object.assign({xref:'paper', yref:'paper', x:fx(x), y:fy(y), text:txt, showarrow:false,
    xanchor:'left', yanchor:'middle', font:{family:SERIF, size:size, color:'#000', weight:'bold', style:'italic'}}, opts||{});
}

panels.forEach((p, i) => {
  const n = i + 1;
  const xid = n === 1 ? 'x' : 'x' + n, yid = n === 1 ? 'y' : 'y' + n;
  const xkey = n === 1 ? 'xaxis' : 'xaxis' + n, ykey = n === 1 ? 'yaxis' : 'yaxis' + n;
  const [L, T, R, B] = p.box;

  // main axes
  layout[xkey] = {
    domain:[fx(L), fx(R)], anchor:yid, range:p.xr, tickmode:'linear', tick0:0, dtick:p.xdt,
    ticks:'inside', ticklen:28, tickwidth:4, tickcolor:'#000',
    minor:{tickmode:'linear', tick0:0, dtick:p.xmn, ticks:'inside', ticklen:14, tickwidth:3, tickcolor:'#000',
           showgrid:true, gridcolor:GRID, gridwidth:2, griddash:GDASH},
    showline:true, linewidth:5, linecolor:'#000', mirror:true,
    showgrid:true, gridcolor:GRID, gridwidth:2, griddash:GDASH, zeroline:false,
    tickfont:{family:SERIF, size:55, weight:'bold', color:'#000'}, ticklabelstandoff:12,
    title:{text:'<b><i>Time</i> (ms)</b>', font:{family:SERIF, size:70, color:'#000'}, standoff:52}
  };
  const yv = [], yt = [];
  for (let v = p.ylo; v <= 30; v += 10) { yv.push(v); yt.push(String(v)); }
  layout[ykey] = {
    domain:[fy(B), fy(T)], anchor:xid, range:p.yr, tickmode:'array', tickvals:yv, ticktext:yt,
    ticks:'inside', ticklen:28, tickwidth:4, tickcolor:'#000',
    minor:{tickmode:'linear', tick0:0, dtick:5, ticks:'inside', ticklen:14, tickwidth:3, tickcolor:'#000',
           showgrid:true, gridcolor:GRID, gridwidth:2, griddash:GDASH},
    showline:true, linewidth:5, linecolor:'#000', mirror:true,
    showgrid:true, gridcolor:GRID, gridwidth:2, griddash:GDASH, zeroline:false,
    tickfont:{family:SERIF, size:55, weight:'bold', color:'#000'}, ticklabelstandoff:14,
    title:{text:'<b><i>Overpressure</i> (kPa)</b>', font:{family:SERIF, size:70, color:'#000'}, standoff:20}
  };

  // main series
  p.data.forEach((s, j) => {
    traces.push({type:'scatter', mode:'lines', x:s.map(d => d[0]), y:s.map(d => d[1]),
      xaxis:xid, yaxis:yid, name:seriesNames[j], line:{color:COLORS[j], width:4.5}, showlegend:false});
  });

  // dashed guides at peak values
  p.pk[0].forEach((t, k) => {
    const pv = p.pk[1][k];
    shapes.push({type:'line', xref:xid, yref:yid, x0:p.gx0[k], x1:t, y0:pv, y1:pv, line:{color:p.gcol[k], width:5, dash:'27px,25px'}, layer:'above'});
    shapes.push({type:'line', xref:xid, yref:yid, x0:t, x1:t, y0:pv, y1:p.gbot, line:{color:p.gcol[k], width:5, dash:'27px,25px'}, layer:'above'});
  });

  // trend arrow and markers
  annotations.push({xref:xid, yref:yid, axref:xid, ayref:yid, x:p.big[2], y:p.big[3], ax:p.big[0], ay:p.big[1],
    text:'', showarrow:true, arrowhead:2, arrowsize:1.3, arrowwidth:4, arrowcolor:'#111'});
  annotations.push({xref:xid, yref:yid, x:p.pm[0], y:p.pm[1], text:'<b><i>P<sub>max</sub></i></b>', showarrow:false,
    font:{family:SERIF, size:66, color:'#000'}, xanchor:'center', yanchor:'middle'});
  annotations.push({xref:xid, yref:yid, axref:xid, ayref:yid, x:p.pmA[0], y:p.pmA[2], ax:p.pmA[0], ay:p.pmA[1],
    text:'', showarrow:true, arrowhead:2, arrowsize:1.2, arrowwidth:3.5, arrowcolor:RED});
  annotations.push({xref:xid, yref:yid, x:p.tp[0], y:p.tp[1], text:'<b><i>t<sub>' + p.tsub + '<sub>max</sub></sub></i></b>', showarrow:false,
    font:{family:SERIF, size:66, color:'#000'}, xanchor:'center', yanchor:'middle'});
  annotations.push({xref:xid, yref:yid, axref:xid, ayref:yid, x:p.tpA[0], y:p.tpA[2], ax:p.tpA[0], ay:p.tpA[1],
    text:'', showarrow:true, arrowhead:2, arrowsize:1.2, arrowwidth:3.5, arrowcolor:RED});

  // panel letter (lpos = glyph centre x, baseline y)
  annotations.push({xref:'paper', yref:'paper', x:fx(p.lpos[0]), y:fy(p.lpos[1] + 0.216 * 148), text:p.letter, showarrow:false,
    font:{family:SERIF, size:148, color:'#000'}, xanchor:'center', yanchor:'bottom', borderpad:0});

  // main legend (drawn box with shadow)
  {
    const L0 = R - 824, R0 = R - 40, T0 = T + 22, B0 = T + 262, off = 19;
    shapes.push(rectPx(L0 + off, T0 + off, R0 + off, B0 + off, '#000', '#000', 0));
    shapes.push(rectPx(L0, T0, R0, B0, '#fff', '#000', 3));
    const rows = [T + 61, T + 140, T + 217];
    const pos = [[0,0],[1,0],[0,1],[1,1],[0,2]];
    pos.forEach(([c, r], j) => {
      const lx0 = c ? R - 405 : R - 817, lx1 = c ? R - 286 : R - 702, tx = c ? R - 273 : R - 688;
      shapes.push(linePx(lx0, rows[r], lx1, rows[r], COLORS[j], 4.5));
      annotations.push(textPx(tx, rows[r], seriesNames[j], 52));
    });
  }

  // inset
  const q = p.ins;
  const ixid = 'x' + (4 + n), iyL = 'y' + (3 + 2 * n), iyR = 'y' + (4 + 2 * n);
  const [iL, iT, iR, iB] = q.box;
  const k = q.tf / 22;
  layout['xaxis' + (4 + n)] = {
    domain:[fx(iL), fx(iR)], anchor:iyL, type:'category', categoryorder:'array', categoryarray:categories,
    tickson:'boundaries', ticks:'inside', ticklen:7 * k, tickwidth:2, tickcolor:'#000',
    showline:true, linewidth:2.5, linecolor:'#000', mirror:true,
    showgrid:true, gridcolor:'#bdbdbd', gridwidth:1.5, griddash:'dot', zeroline:false,
    tickfont:{family:SERIF, size:q.cf, weight:'bold', style:'italic', color:'#000'}, ticklabelstandoff:2
  };
  layout['yaxis' + (3 + 2 * n)] = {
    domain:[fy(iB), fy(iT)], anchor:ixid, range:q.y1, tickmode:'linear', tick0:0, dtick:10,
    ticks:'outside', ticklen:8 * k, tickwidth:2, tickcolor:'#000',
    minor:{tickmode:'linear', tick0:0, dtick:5, ticks:'outside', ticklen:5 * k, tickwidth:1.5, tickcolor:'#000',
           showgrid:true, gridcolor:'#bdbdbd', gridwidth:1.5, griddash:'dot'},
    showline:true, linewidth:2.5, linecolor:'#000', mirror:false,
    showgrid:true, gridcolor:'#bdbdbd', gridwidth:1.5, griddash:'dot', zeroline:false,
    tickfont:{family:SERIF, size:q.tf, color:'#000'},
    title:{text:'<i>Maximum Overpressure</i> (kPa)', font:{family:SERIF, size:q.ttf, color:'#000'}, standoff:14 * k}
  };
  layout['yaxis' + (4 + 2 * n)] = {
    overlaying:iyL, side:'right', anchor:ixid, range:q.y2, tickmode:'array', tickvals:q.y2t,
    ticks:'outside', ticklen:8 * k, tickwidth:2, tickcolor:q.lc,
    minor:{tickmode:'linear', tick0:0, dtick:0.5, ticks:'outside', ticklen:5 * k, tickwidth:1.5, tickcolor:q.lc},
    showline:true, linewidth:2.5, linecolor:q.lc, showgrid:false, zeroline:false,
    tickfont:{family:SERIF, size:q.tf, color:q.lc},
    title:{text:'<b><i>(dp/dt)<sub>max</sub></i> (MPa/s)</b>', font:{family:SERIF, size:q.ttf, color:q.lc}, standoff:10 * k}
  };
  shapes.push({type:'rect', xref:ixid + ' domain', yref:iyL + ' domain', x0:0, x1:1, y0:0, y1:1,
    fillcolor:q.bg, line:{width:0}, layer:'below'});

  q.layers.forEach(([frac, col]) => {
    traces.push({type:'bar', x:categories, y:q.over, width:q.bw * frac, xaxis:ixid, yaxis:iyL,
      marker:{color:col, line:{width:0}}, opacity:1, showlegend:false, name:'Overpressure',
      textposition:'none', hoverinfo:'skip'});
  });
  traces.push({type:'scatter', mode:'lines+markers', x:categories, y:q.dp, xaxis:ixid, yaxis:iyR, name:'(dp/dt)',
    line:{color:q.lc, width:2.5}, marker:{size:q.ms, color:q.lc, line:{width:0},
    gradient:{type:'radial', color: q.lc === RED ? '#ffa0a0' : '#ffa0ff'}}, showlegend:false, hoverinfo:'skip'});

  // inset legend
  {
    const g = q.leg; const [lL, lT, lR, lB] = g.box; const off = 8 * k;
    shapes.push(rectPx(lL + off, lT + off, lR + off, lB + off, '#000', '#000', 0));
    shapes.push(rectPx(lL, lT, lR, lB, '#fff', '#000', 2));
    const sw0 = lL + g.sw[0], sw1 = lL + g.sw[1], swm = (sw0 + sw1) / 2, sww = sw1 - sw0;
    shapes.push(rectPx(sw0, lT + g.sw[2], sw1, lT + g.sw[3], q.layers[0][1], q.layers[0][1], 0));
    shapes.push(rectPx(swm - sww * 0.32, lT + g.sw[2], swm + sww * 0.32, lT + g.sw[3], q.layers[3][1], q.layers[3][1], 0));
    shapes.push(rectPx(swm - sww * 0.14, lT + g.sw[2], swm + sww * 0.14, lT + g.sw[3], q.layers[6][1], q.layers[6][1], 0));
    annotations.push(textPx(lL + g.tx, lT + g.r1, 'Overpressure', q.lf));
    shapes.push(linePx(lL + g.ln[0], lT + g.r2, lL + g.ln[1], lT + g.r2, q.lc, 2.5));
    shapes.push({type:'circle', xref:'paper', yref:'paper', x0:fx(lL + g.mx - g.mr), x1:fx(lL + g.mx + g.mr),
      y0:fy(lT + g.r2 + g.mr), y1:fy(lT + g.r2 - g.mr), fillcolor:q.lc, line:{width:0}, layer:'above'});
    annotations.push(textPx(lL + g.tx, lT + g.r2, '(dp/dt)', q.lf, {font:{family:SERIF, size:q.lf, color:q.lc, weight:'bold', style:'italic'}}));
  }
});

layout.shapes = shapes;
layout.annotations = annotations;
Plotly.newPlot('chart', traces, layout, {staticPlot:true, displayModeBar:false});
</script>
</body></html>
